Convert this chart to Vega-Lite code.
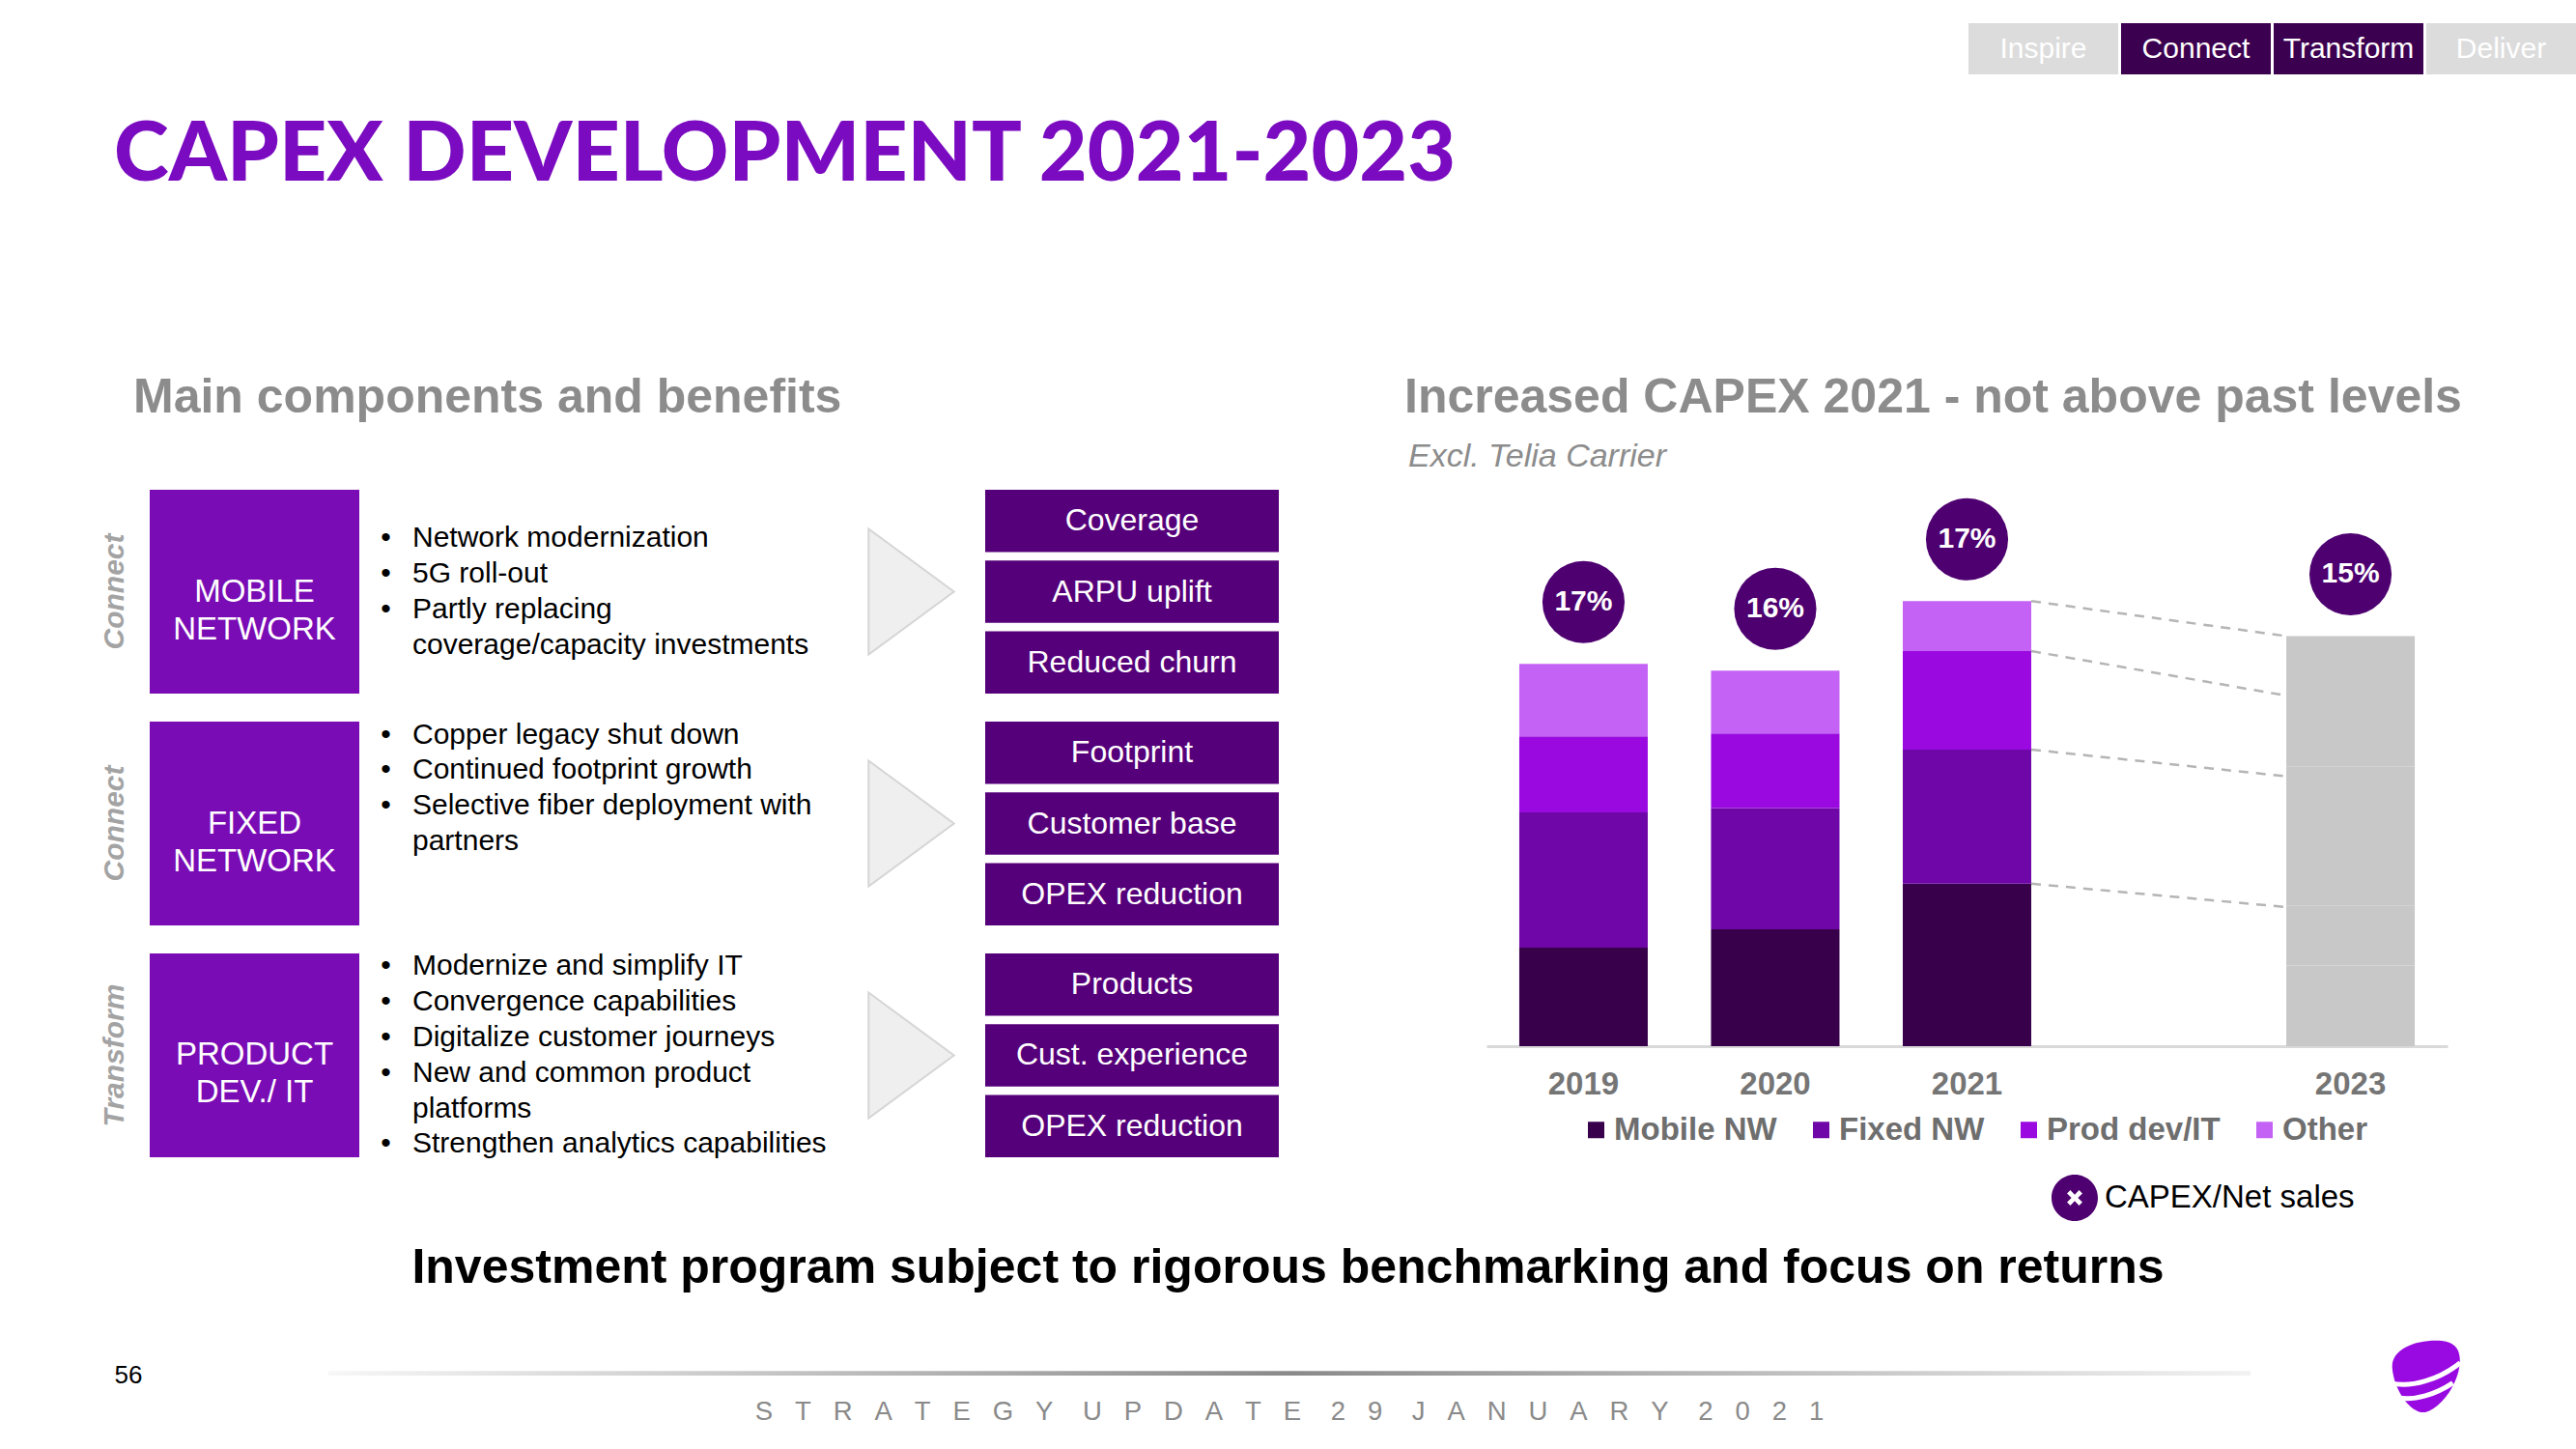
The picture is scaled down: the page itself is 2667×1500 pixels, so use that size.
{
  "$schema": "https://vega.github.io/schema/vega-lite/v6.json",
  "background": "#ffffff",
  "padding": {"left": 0, "top": 24, "right": 0, "bottom": 0},
  "autosize": {"type": "pad"},
  "spacing": 0,
  "config": {
    "view": {"stroke": null},
    "font": "Liberation Sans",
    "concat": {"spacing": 0}
  },
  "datasets": {
    "nav": [
      {"label": "Inspire", "active": false},
      {"label": "Connect", "active": true},
      {"label": "Transform", "active": true},
      {"label": "Deliver", "active": false}
    ],
    "heading": [{"text": "CAPEX DEVELOPMENT 2021-2023"}],
    "leftHeading": [{"text": "Main components and benefits"}],
    "rightHeading": [{"text": "Increased CAPEX 2021 - not above past levels", "sub": "Excl. Telia Carrier"}],
    "groups": [
      {"group": "MOBILE", "tag": "Connect", "label": "MOBILE\nNETWORK"},
      {"group": "FIXED", "tag": "Connect", "label": "FIXED\nNETWORK"},
      {"group": "PRODUCT", "tag": "Transform", "label": "PRODUCT\nDEV./ IT"}
    ],
    "bullets": [
      {"group": "MOBILE", "line": 1, "text": "Network modernization", "bullet": true},
      {"group": "MOBILE", "line": 2, "text": "5G roll-out", "bullet": true},
      {"group": "MOBILE", "line": 3, "text": "Partly replacing", "bullet": true},
      {"group": "MOBILE", "line": 4, "text": "coverage/capacity investments", "bullet": false},
      {"group": "FIXED", "line": 0, "text": "Copper legacy shut down", "bullet": true},
      {"group": "FIXED", "line": 1, "text": "Continued footprint growth", "bullet": true},
      {"group": "FIXED", "line": 2, "text": "Selective fiber deployment with", "bullet": true},
      {"group": "FIXED", "line": 3, "text": "partners", "bullet": false},
      {"group": "PRODUCT", "line": 0, "text": "Modernize and simplify IT", "bullet": true},
      {"group": "PRODUCT", "line": 1, "text": "Convergence capabilities", "bullet": true},
      {"group": "PRODUCT", "line": 2, "text": "Digitalize customer journeys", "bullet": true},
      {"group": "PRODUCT", "line": 3, "text": "New and common product", "bullet": true},
      {"group": "PRODUCT", "line": 4, "text": "platforms", "bullet": false},
      {"group": "PRODUCT", "line": 5, "text": "Strengthen analytics capabilities", "bullet": true}
    ],
    "benefits": [
      {"group": "MOBILE", "k": 0, "text": "Coverage"},
      {"group": "MOBILE", "k": 1, "text": "ARPU uplift"},
      {"group": "MOBILE", "k": 2, "text": "Reduced churn"},
      {"group": "FIXED", "k": 0, "text": "Footprint"},
      {"group": "FIXED", "k": 1, "text": "Customer base"},
      {"group": "FIXED", "k": 2, "text": "OPEX reduction"},
      {"group": "PRODUCT", "k": 0, "text": "Products"},
      {"group": "PRODUCT", "k": 1, "text": "Cust. experience"},
      {"group": "PRODUCT", "k": 2, "text": "OPEX reduction"}
    ],
    "capex": [
      {"year": "2019", "segment": "Mobile NW", "value": 3.54},
      {"year": "2019", "segment": "Fixed NW", "value": 4.86},
      {"year": "2019", "segment": "Prod dev/IT", "value": 2.74},
      {"year": "2019", "segment": "Other", "value": 2.6},
      {"year": "2020", "segment": "Mobile NW", "value": 4.2},
      {"year": "2020", "segment": "Fixed NW", "value": 4.36},
      {"year": "2020", "segment": "Prod dev/IT", "value": 2.68},
      {"year": "2020", "segment": "Other", "value": 2.26},
      {"year": "2021", "segment": "Mobile NW", "value": 5.84},
      {"year": "2021", "segment": "Fixed NW", "value": 4.82},
      {"year": "2021", "segment": "Prod dev/IT", "value": 3.54},
      {"year": "2021", "segment": "Other", "value": 1.8},
      {"year": "2023", "segment": "Mobile NW", "value": 5.0},
      {"year": "2023", "segment": "Fixed NW", "value": 4.7},
      {"year": "2023", "segment": "Prod dev/IT", "value": 2.9},
      {"year": "2023", "segment": "Other", "value": 2.14}
    ],
    "ratio": [
      {"year": "2019", "pct": "17%"},
      {"year": "2020", "pct": "16%"},
      {"year": "2021", "pct": "17%"},
      {"year": "2023", "pct": "15%"}
    ],
    "bridge": [
      {"from": "2021", "to": "2023", "start": 5.84, "end": 5.0},
      {"from": "2021", "to": "2023", "start": 10.66, "end": 9.7},
      {"from": "2021", "to": "2023", "start": 14.2, "end": 12.6},
      {"from": "2021", "to": "2023", "start": 16.0, "end": 14.74}
    ],
    "statement": [{"text": "Investment program subject to rigorous benchmarking and focus on returns"}],
    "footer": [{"page": "56", "event": "S\u00a0\u00a0\u00a0T\u00a0\u00a0\u00a0R\u00a0\u00a0\u00a0A\u00a0\u00a0\u00a0T\u00a0\u00a0\u00a0E\u00a0\u00a0\u00a0G\u00a0\u00a0\u00a0Y\u00a0\u00a0\u00a0\u00a0U\u00a0\u00a0\u00a0P\u00a0\u00a0\u00a0D\u00a0\u00a0\u00a0A\u00a0\u00a0\u00a0T\u00a0\u00a0\u00a0E\u00a0\u00a0\u00a0\u00a02\u00a0\u00a0\u00a09\u00a0\u00a0\u00a0\u00a0J\u00a0\u00a0\u00a0A\u00a0\u00a0\u00a0N\u00a0\u00a0\u00a0U\u00a0\u00a0\u00a0A\u00a0\u00a0\u00a0R\u00a0\u00a0\u00a0Y\u00a0\u00a0\u00a0\u00a02\u00a0\u00a0\u00a00\u00a0\u00a0\u00a02\u00a0\u00a0\u00a01"}]
  },
  "vconcat": [
    {
      "hconcat": [
        {"width": 2038, "height": 53, "data": {"values": []}, "mark": "point"},
        {
          "width": 629, "height": 53,
          "data": {"name": "nav"},
          "encoding": {
            "x": {"field": "label", "type": "nominal", "scale": {"type": "band", "domain": ["Inspire", "Connect", "Transform", "Deliver"], "paddingInner": 0.019, "paddingOuter": 0}, "axis": null}
          },
          "layer": [
            {"mark": {"type": "rect"},
             "encoding": {"fill": {"condition": {"test": "datum.active", "value": "#3C0050"}, "value": "#DCDCDC"}}},
            {"mark": {"type": "text", "color": "#FFFFFF", "fontSize": 30, "baseline": "middle"},
             "encoding": {"text": {"field": "label"}}}
          ]
        }
      ],
      "bounds": "flush", "spacing": 0
    },
    {
      "hconcat": [
        {"width": 118, "height": 168, "data": {"values": []}, "mark": "point"},
        {
          "width": 1600, "height": 168,
          "data": {"name": "heading"},
          "mark": {"type": "text", "align": "left", "baseline": "middle", "font": "Lato", "fontWeight": 900, "fontSize": 86, "color": "#7A0BC0"},
          "encoding": {
            "x": {"datum": 0, "type": "quantitative", "scale": {"domain": [0, 1]}, "axis": null},
            "text": {"field": "text"}
          }
        }
      ],
      "bounds": "flush", "spacing": 0
    },
    {"width": 1, "height": 139, "data": {"values": []}, "mark": "point"},
    {
      "hconcat": [
        {"width": 138, "height": 56, "data": {"values": []}, "mark": "point"},
        {
          "width": 1316, "height": 56,
          "data": {"name": "leftHeading"},
          "mark": {"type": "text", "align": "left", "baseline": "middle", "fontSize": 50, "fontWeight": "bold", "color": "#8C8C8C"},
          "encoding": {
            "x": {"datum": 0, "type": "quantitative", "scale": {"domain": [0, 1]}, "axis": null},
            "text": {"field": "text"}
          }
        },
        {
          "width": 1213, "height": 56,
          "data": {"name": "rightHeading"},
          "mark": {"type": "text", "align": "left", "baseline": "middle", "fontSize": 50, "fontWeight": "bold", "color": "#8C8C8C"},
          "encoding": {
            "x": {"datum": 0, "type": "quantitative", "scale": {"domain": [0, 1]}, "axis": null},
            "text": {"field": "text"}
          }
        }
      ],
      "resolve": {"scale": {"x": "independent"}},
      "bounds": "flush", "spacing": 0
    },
    {"width": 1, "height": 9, "data": {"values": []}, "mark": "point"},
    {
      "hconcat": [
        {"width": 1458, "height": 48, "data": {"values": []}, "mark": "point"},
        {
          "width": 600, "height": 48,
          "data": {"name": "rightHeading"},
          "mark": {"type": "text", "align": "left", "baseline": "middle", "fontSize": 34, "fontStyle": "italic", "color": "#8C8C8C"},
          "encoding": {
            "x": {"datum": 0, "type": "quantitative", "scale": {"domain": [0, 1]}, "axis": null},
            "text": {"field": "sub"}
          }
        }
      ],
      "bounds": "flush", "spacing": 0
    },
    {"width": 1, "height": 10, "data": {"values": []}, "mark": "point"},
    {
      "hconcat": [
        {"width": 83, "height": 691, "data": {"values": []}, "mark": "point"},
        {
          "width": 72, "height": 691,
          "data": {"name": "groups"},
          "mark": {"type": "text", "angle": 270, "fontSize": 30, "fontWeight": "bold", "fontStyle": "italic", "color": "#A3A3A3", "baseline": "middle", "align": "center"},
          "encoding": {
            "y": {"field": "group", "type": "nominal", "scale": {"type": "band", "domain": ["MOBILE", "FIXED", "PRODUCT"], "paddingInner": 0.1208, "paddingOuter": 0}, "axis": null},
            "text": {"field": "tag"}
          }
        },
        {
          "width": 217, "height": 691,
          "data": {"name": "groups"},
          "encoding": {
            "y": {"field": "group", "type": "nominal", "scale": {"type": "band", "domain": ["MOBILE", "FIXED", "PRODUCT"], "paddingInner": 0.1208, "paddingOuter": 0}, "axis": null}
          },
          "layer": [
            {"mark": {"type": "rect", "color": "#790CB5"}},
            {"mark": {"type": "text", "color": "#FFFFFF", "fontSize": 33, "lineBreak": "\n", "lineHeight": 39, "baseline": "middle"},
             "encoding": {"text": {"field": "label"}}}
          ]
        },
        {
          "width": 55, "height": 691,
          "data": {"name": "bullets"},
          "transform": [{"filter": "datum.bullet"}],
          "mark": {"type": "text", "fontSize": 30, "color": "#000000", "baseline": "middle"},
          "encoding": {
            "y": {"field": "group", "type": "nominal", "scale": {"type": "band", "domain": ["MOBILE", "FIXED", "PRODUCT"], "paddingInner": 0.1208, "paddingOuter": 0}, "axis": null},
            "yOffset": {"field": "line", "type": "ordinal", "scale": {"type": "point", "domain": [0, 1, 2, 3, 4, 5], "padding": 0.367}},
            "text": {"value": "•"}
          }
        },
        {
          "width": 453, "height": 691,
          "data": {"name": "bullets"},
          "mark": {"type": "text", "fontSize": 30, "color": "#000000", "align": "left", "baseline": "middle"},
          "encoding": {
            "x": {"datum": 0, "type": "quantitative", "scale": {"domain": [0, 1]}, "axis": null},
            "y": {"field": "group", "type": "nominal", "scale": {"type": "band", "domain": ["MOBILE", "FIXED", "PRODUCT"], "paddingInner": 0.1208, "paddingOuter": 0}, "axis": null},
            "yOffset": {"field": "line", "type": "ordinal", "scale": {"type": "point", "domain": [0, 1, 2, 3, 4, 5], "padding": 0.367}},
            "text": {"field": "text"}
          }
        },
        {
          "width": 127, "height": 691,
          "data": {"name": "groups"},
          "mark": {"type": "point", "shape": "M -0.68 -1 L 0.68 0 L -0.68 1 Z", "size": 16900, "filled": true, "fill": "#EFEFEF", "stroke": "#D5D5D5", "strokeWidth": 2, "opacity": 1},
          "encoding": {
            "y": {"field": "group", "type": "nominal", "scale": {"type": "band", "domain": ["MOBILE", "FIXED", "PRODUCT"], "paddingInner": 0.1208, "paddingOuter": 0}, "axis": null}
          }
        },
        {"width": 13, "height": 691, "data": {"values": []}, "mark": "point"},
        {
          "width": 304, "height": 691,
          "data": {"name": "benefits"},
          "encoding": {
            "y": {"field": "group", "type": "nominal", "scale": {"type": "band", "domain": ["MOBILE", "FIXED", "PRODUCT"], "paddingInner": 0.1208, "paddingOuter": 0}, "axis": null},
            "yOffset": {"field": "k", "type": "ordinal", "scale": {"domain": [0, 1, 2], "paddingInner": 0.119, "paddingOuter": 0}}
          },
          "layer": [
            {"mark": {"type": "rect", "color": "#55007A"}},
            {"mark": {"type": "text", "color": "#FFFFFF", "fontSize": 32, "baseline": "middle"},
             "encoding": {"text": {"field": "text"}}}
          ]
        },
        {"width": 215, "height": 691, "data": {"values": []}, "mark": "point"},
        {
          "width": 995, "height": 576,
          "data": {"name": "capex"},
          "encoding": {
            "x": {"field": "year", "type": "ordinal", "title": null,
                  "scale": {"domain": ["2019", "2020", "2021", "2022", "2023"], "paddingInner": 0.33, "paddingOuter": 0.171},
                  "axis": {"title": null, "ticks": false, "grid": false, "domainColor": "#D9D9D9", "domainWidth": 3, "labelAngle": 0, "labelFontSize": 33, "labelFontWeight": "bold", "labelColor": "#757575", "labelFont": "Liberation Sans", "labelPadding": 23, "labelExpr": "datum.value == '2022' ? '' : datum.label"}}
          },
          "layer": [
            {
              "transform": [
                {"filter": "datum.year != '2023'"},
                {"window": [{"op": "row_number", "as": "k"}], "groupby": ["year"]}
              ],
              "mark": {"type": "bar"},
              "encoding": {
                "y": {"field": "value", "type": "quantitative", "stack": "zero", "scale": {"domain": [0, 20]}, "axis": null},
                "color": {"field": "segment", "type": "nominal",
                          "scale": {"domain": ["Mobile NW", "Fixed NW", "Prod dev/IT", "Other"], "range": ["#38004B", "#6F06A8", "#9A0AE0", "#C462F5"]},
                          "legend": {"orient": "none", "legendX": 1636, "legendY": 1129, "direction": "horizontal", "title": null, "symbolType": "square", "symbolSize": 289, "symbolStrokeWidth": 0, "symbolOpacity": 1, "labelFontSize": 33, "labelFontWeight": "bold", "labelColor": "#6E6E6E", "labelFont": "Liberation Sans", "columnPadding": 29, "labelOffset": 2, "padding": 0, "labelLimit": 400}},
                "order": {"field": "k", "type": "quantitative"}
              }
            },
            {
              "transform": [{"filter": "datum.year == '2023'"}],
              "mark": {"type": "bar", "color": "#C8C8C8"},
              "encoding": {
                "y": {"field": "value", "type": "quantitative", "stack": "zero", "axis": null},
                "detail": {"field": "segment"}
              }
            },
            {
              "data": {"name": "bridge"},
              "mark": {"type": "rule", "strokeDash": [10, 8], "color": "#B5B5B5", "strokeWidth": 2.5},
              "encoding": {
                "x": {"field": "from", "type": "ordinal", "bandPosition": 1, "title": null},
                "x2": {"field": "to", "bandPosition": 0},
                "y": {"field": "start", "type": "quantitative", "axis": null},
                "y2": {"field": "end"}
              }
            },
            {
              "transform": [
                {"aggregate": [{"op": "sum", "field": "value", "as": "total"}], "groupby": ["year"]},
                {"lookup": "year", "from": {"data": {"name": "ratio"}, "key": "year", "fields": ["pct"]}}
              ],
              "layer": [
                {
                  "mark": {"type": "point", "filled": true, "size": 7240, "yOffset": -64, "opacity": 1, "strokeWidth": 0},
                  "encoding": {
                    "y": {"field": "total", "type": "quantitative", "axis": null},
                    "fill": {"datum": "CAPEX/Net sales", "type": "nominal", "scale": {"range": ["#4E0070"]},
                             "legend": {"orient": "none", "legendX": 2124, "legendY": 1192, "title": null,
                                        "symbolType": "M 1 0 A 1 1 0 1 1 -1 0 A 1 1 0 1 1 1 0 Z M -0.33 -0.19 L -0.14 0 L -0.33 0.19 L -0.19 0.33 L 0 0.14 L 0.19 0.33 L 0.33 0.19 L 0.14 0 L 0.33 -0.19 L 0.19 -0.33 L 0 -0.14 L -0.19 -0.33 Z",
                                        "symbolSize": 2304, "symbolStrokeWidth": 0, "symbolOpacity": 1, "labelFontSize": 33, "labelColor": "#000000", "labelFont": "Liberation Sans", "labelOffset": 7, "padding": 0, "labelLimit": 400}}
                  }
                },
                {
                  "mark": {"type": "text", "yOffset": -64, "fontSize": 30, "fontWeight": "bold", "color": "#FFFFFF", "baseline": "middle"},
                  "encoding": {
                    "y": {"field": "total", "type": "quantitative", "axis": null},
                    "text": {"field": "pct"}
                  }
                }
              ]
            }
          ]
        }
      ],
      "resolve": {"scale": {"x": "independent", "y": "independent", "yOffset": "independent"}},
      "bounds": "flush", "spacing": 0
    },
    {
      "width": 2667, "height": 176,
      "data": {"name": "statement"},
      "mark": {"type": "text", "fontSize": 50, "fontWeight": "bold", "color": "#000000", "baseline": "top"},
      "encoding": {"text": {"field": "text"}}
    },
    {"width": 1, "height": 10, "data": {"values": []}, "mark": "point"},
    {
      "hconcat": [
        {
          "width": 266, "height": 76,
          "data": {"name": "footer"},
          "mark": {"type": "text", "fontSize": 26, "color": "#000000", "baseline": "middle"},
          "encoding": {"text": {"field": "page"}}
        },
        {"width": 74, "height": 76, "data": {"values": []}, "mark": "point"},
        {
          "width": 1990, "height": 116,
          "data": {"name": "footer"},
          "layer": [
            {
              "mark": {"type": "rect", "fill": {"gradient": "linear", "x1": 0, "x2": 1, "y1": 0, "y2": 0, "stops": [{"offset": 0, "color": "#F7F7F7"}, {"offset": 0.5, "color": "#8A8A8A"}, {"offset": 1, "color": "#F2F2F2"}]}},
              "encoding": {"y": {"datum": "line", "type": "nominal", "scale": {"type": "band", "domain": ["line", "text"], "paddingInner": 0.877, "paddingOuter": 0.8705, "align": 0.47}, "axis": null}}
            },
            {
              "mark": {"type": "text", "fontSize": 27.5, "color": "#8A8A8A", "baseline": "middle"},
              "encoding": {"y": {"datum": "text", "type": "nominal"}, "text": {"field": "event"}}
            }
          ]
        },
        {"width": 130, "height": 76, "data": {"values": []}, "mark": "point"},
        {
          "width": 102, "height": 76,
          "data": {"name": "footer"},
          "layer": [
            {"mark": {"type": "point", "shape": "M -0.9 -0.2 C -0.95 -0.75 -0.2 -1.0 0.45 -0.95 C 0.95 -0.9 1.0 -0.5 0.9 -0.1 C 0.75 0.45 0.35 0.9 0.0 1.0 C -0.4 1.05 -0.85 0.4 -0.9 -0.2 Z", "size": 5776, "filled": true, "fill": "#990AE3", "opacity": 1, "strokeWidth": 0}},
            {"mark": {"type": "point", "shape": "M -0.95 0.2 C -0.4 0.35 0.4 0.1 0.95 -0.35", "size": 5776, "filled": false, "stroke": "#FFFFFF", "strokeWidth": 5, "opacity": 1}},
            {"mark": {"type": "point", "shape": "M -0.75 0.6 C -0.3 0.7 0.3 0.5 0.75 0.2", "size": 5776, "filled": false, "stroke": "#FFFFFF", "strokeWidth": 5, "opacity": 1}}
          ]
        }
      ],
      "resolve": {"scale": {"y": "independent"}},
      "bounds": "flush", "spacing": 0
    }
  ]
}
